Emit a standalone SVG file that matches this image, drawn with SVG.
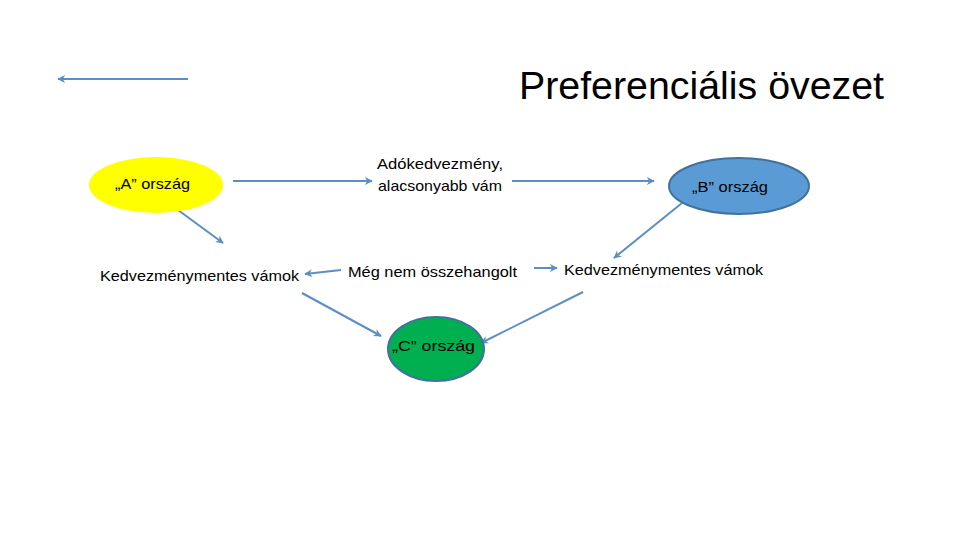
<svg xmlns="http://www.w3.org/2000/svg" width="960" height="540" viewBox="0 0 960 540">
<defs>
<marker id="ah" viewBox="0 0 10 10" refX="9" refY="5" markerWidth="4" markerHeight="4" orient="auto" markerUnits="strokeWidth">
<path d="M0,0 L10,5 L0,10 L3,5 Z" fill="#5B8FC4"/>
</marker>
<style>
.t{font-family:"Liberation Sans","Open Sans",sans-serif;font-size:15px;fill:#000}
.c{stroke:#5B8FC4;stroke-width:2;fill:none;marker-end:url(#ah)}
</style>
</defs>
<rect width="960" height="540" fill="#fff"/>
<text class="t" x="519" y="99" style="font-size:38px" textLength="365" lengthAdjust="spacingAndGlyphs">Preferenciális övezet</text>
<g id="connectors">
<line class="c" x1="188" y1="79" x2="58" y2="79"/>
<line class="c" x1="233" y1="181" x2="372" y2="181"/>
<line class="c" x1="512" y1="181" x2="654" y2="181"/>
<line class="c" x1="682" y1="203" x2="614" y2="258"/>
<line class="c" x1="178" y1="210" x2="223" y2="243"/>
<line class="c" x1="341" y1="270" x2="305" y2="274"/>
<line class="c" x1="534" y1="268" x2="557" y2="268"/>
<line class="c" x1="302" y1="293" x2="381" y2="336"/>
<line class="c" x1="583" y1="292" x2="481" y2="343"/>
</g>
<g id="nodeA">
<ellipse cx="156" cy="185" rx="67" ry="28" fill="#FFFF00"/>
<text class="t" x="115" y="189" textLength="75" lengthAdjust="spacingAndGlyphs">„A” ország</text>
</g>
<g id="nodeAdo">
<text class="t" x="377" y="169" textLength="126" lengthAdjust="spacingAndGlyphs">Adókedvezmény,</text>
<text class="t" x="378" y="191" textLength="124" lengthAdjust="spacingAndGlyphs">alacsonyabb vám</text>
</g>
<g id="nodeB">
<ellipse cx="739" cy="186" rx="70" ry="28" fill="#5B9BD5" stroke="#41719C" stroke-width="2"/>
<text class="t" x="692" y="192" textLength="76" lengthAdjust="spacingAndGlyphs">„B” ország</text>
</g>
<g id="nodeKedvL">
<text class="t" x="100" y="281" textLength="199" lengthAdjust="spacingAndGlyphs">Kedvezménymentes vámok</text>
</g>
<g id="nodeMeg">
<text class="t" x="348" y="277" textLength="169" lengthAdjust="spacingAndGlyphs">Még nem összehangolt</text>
</g>
<g id="nodeKedvR">
<text class="t" x="564" y="275" textLength="199" lengthAdjust="spacingAndGlyphs">Kedvezménymentes vámok</text>
</g>
<g id="nodeC">
<ellipse cx="436" cy="349" rx="48" ry="32" fill="#00B050" stroke="#41719C" stroke-width="2"/>
<text class="t" x="392" y="351" textLength="83" lengthAdjust="spacingAndGlyphs">„C” ország</text>
</g>
</svg>
